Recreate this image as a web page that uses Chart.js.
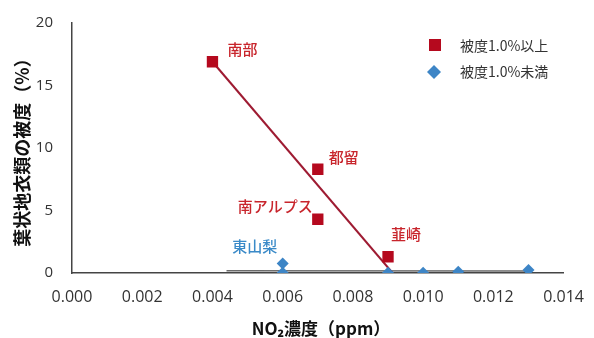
<!DOCTYPE html>
<html>
<head>
<meta charset="utf-8">
<script src="https://cdn.jsdelivr.net/npm/chart.js@4/dist/chart.umd.min.js"></script>
<style>
  html, body { margin: 0; padding: 0; background: #fff; }
  #wrap { width: 594px; height: 338px; position: relative; }
</style>
</head>
<body>
<div id="wrap"><canvas id="c" width="594" height="338"></canvas></div>
<script>
// NO2 concentration (ppm) vs foliose lichen cover (%)
const highCoverX = [0.004, 0.007, 0.007, 0.009];
const highCoverY = [16.9, 8.3, 4.3, 1.3];
const highCoverNames = ['南部', '都留', '南アルプス', '韮崎'];

const lowCoverX = [0.006, 0.006, 0.009, 0.010, 0.011, 0.013];
const lowCoverY = [0.76, 0.02, 0.03, 0.03, 0.1, 0.24];
const lowCoverNames = ['東山梨', '', '', '', '', ''];

// fitted trend lines (end points)
const highTrendX = [0.004, 0.00913];
const highTrendY = [16.9, 0.0];
const lowTrendX = [0.0044, 0.013];
const lowTrendY = [0.18, 0.16];

const seriesNames = ['被度1.0%以上', '被度1.0%未満'];
const xTicks = [0, 0.002, 0.004, 0.006, 0.008, 0.010, 0.012, 0.014];
const yTicks = [0, 5, 10, 15, 20];
const xTitle = 'NO₂濃度（ppm）';
const yTitle = '葉状地衣類の被度（%）';

const RED = '#B5091E';
const BLUE = '#3D85C6';
const RED_TEXT = '#C8252C';
const BLUE_TEXT = '#3A8AC8';
const CJK = '"Noto Sans CJK JP", "Noto Sans", sans-serif';
const TICKFONT = '"Open Sans", "Noto Sans", sans-serif';

const toPts = (xs, ys) => xs.map((x, i) => ({ x: x, y: ys[i] }));

// point labels with offsets relative to each mark
const labelOffsets = {
  '南部': { dx: 15, dy: -12, align: 'left' },
  '都留': { dx: 11, dy: -12, align: 'left' },
  '南アルプス': { dx: -5, dy: -13, align: 'right' },
  '韮崎': { dx: 3, dy: -22, align: 'left' },
  '東山梨': { dx: -28, dy: -17, align: 'center' }
};

const overlay = {
  id: 'overlay',
  afterDatasetsDraw(chart) {
    const ctx = chart.ctx;
    const xs = chart.scales.x, ys = chart.scales.y;
    ctx.save();
    ctx.textBaseline = 'middle';
    ctx.font = '500 15px ' + CJK;
    const drawNames = (X, Y, names, color) => {
      names.forEach((n, i) => {
        if (!n) return;
        const o = labelOffsets[n];
        ctx.fillStyle = color;
        ctx.textAlign = o.align;
        ctx.fillText(n, xs.getPixelForValue(X[i]) + o.dx, ys.getPixelForValue(Y[i]) + o.dy);
      });
    };
    drawNames(highCoverX, highCoverY, highCoverNames, RED_TEXT);
    drawNames(lowCoverX, lowCoverY, lowCoverNames, BLUE_TEXT);

    // legend
    ctx.fillStyle = RED;
    ctx.fillRect(429, 39, 12, 12);
    ctx.fillStyle = BLUE;
    ctx.beginPath();
    ctx.moveTo(434, 65); ctx.lineTo(441, 72); ctx.lineTo(434, 79); ctx.lineTo(427, 72);
    ctx.closePath(); ctx.fill();
    ctx.fillStyle = '#333';
    ctx.textAlign = 'left';
    ctx.font = '14px ' + CJK;
    ctx.fillText(seriesNames[0], 460, 46);
    ctx.fillText(seriesNames[1], 460, 72);

    // axis titles
    ctx.fillStyle = '#111';
    ctx.font = 'bold 17px ' + CJK;
    ctx.textAlign = 'center';
    ctx.fillText(xTitle, 321, 329);
    ctx.save();
    ctx.translate(22, 148);
    ctx.rotate(-Math.PI / 2);
    ctx.font = 'bold 18px ' + CJK;
    ctx.fillText(yTitle, 0, 0);
    ctx.restore();
    ctx.restore();
  }
};

new Chart(document.getElementById('c'), {
  type: 'scatter',
  data: {
    datasets: [
      { label: 'highTrend', type: 'line', data: toPts(highTrendX, highTrendY),
        borderColor: '#9E1B32', borderWidth: 2, pointRadius: 0, fill: false, order: 3 },
      { label: 'lowTrend', type: 'line', data: toPts(lowTrendX, lowTrendY),
        borderColor: '#6a6a6a', borderWidth: 1.5, pointRadius: 0, fill: false, order: 3 },
      { label: seriesNames[0], data: toPts(highCoverX, highCoverY),
        pointStyle: 'rect', pointRadius: 8, pointHoverRadius: 8,
        backgroundColor: RED, borderColor: RED, borderWidth: 0, order: 1 },
      { label: seriesNames[1], data: toPts(lowCoverX, lowCoverY),
        pointStyle: 'rectRot', pointRadius: 6, pointHoverRadius: 6,
        backgroundColor: BLUE, borderColor: BLUE, borderWidth: 0, order: 2 }
    ]
  },
  options: {
    responsive: false,
    animation: false,
    layout: { padding: { top: 19, right: 22, left: 0, bottom: 0 } },
    plugins: { legend: { display: false }, tooltip: { enabled: false } },
    scales: {
      x: {
        type: 'linear', min: 0, max: 0.014,
        afterBuildTicks: (s) => { s.ticks = xTicks.map(v => ({ value: v })); },
        afterFit: (s) => { s.height = 65; },
        grid: { display: false, drawOnChartArea: false, drawTicks: true, tickLength: 5, tickColor: '#444' },
        border: { color: '#444', width: 1.5 },
        ticks: { color: '#333', font: { family: TICKFONT, size: 16 }, padding: 10,
                 maxRotation: 0, callback: (v) => Number(v).toFixed(3) }
      },
      y: {
        type: 'linear', min: 0, max: 20,
        afterBuildTicks: (s) => { s.ticks = yTicks.map(v => ({ value: v })); },
        afterFit: (s) => { s.width = 72; },
        grid: { display: false, drawOnChartArea: false, drawTicks: true, tickLength: 5, tickColor: '#444' },
        border: { color: '#444', width: 1.5 },
        ticks: { color: '#333', font: { family: TICKFONT, size: 15 }, padding: 14 }
      }
    }
  },
  plugins: [overlay]
});
</script>
</body>
</html>
